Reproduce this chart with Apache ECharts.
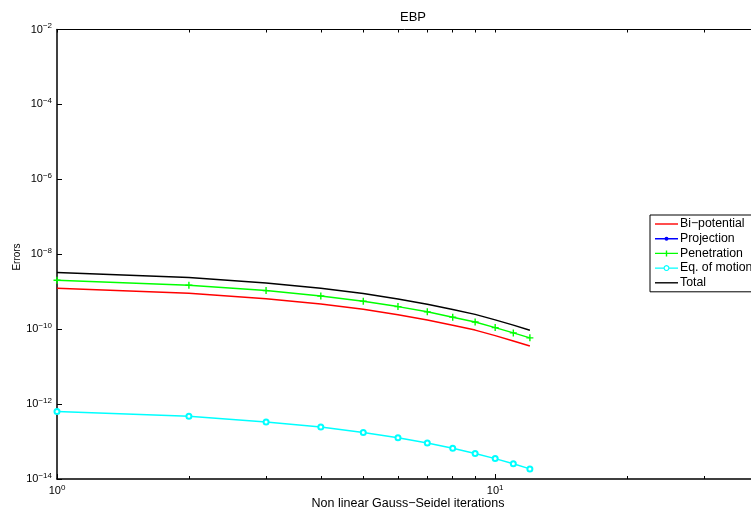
<!DOCTYPE html>
<html>
<head>
<meta charset="utf-8">
<script src="https://cdn.jsdelivr.net/npm/echarts@6/dist/echarts.min.js"></script>
<style>
html,body{margin:0;padding:0;background:#fff;}
#chart{width:751px;height:516px;}
</style>
</head>
<body>
<div id="chart"></div>
<script>
// ---- data ----
var iterations = [1,2,3,4,5,6,7,8,9,10,11,12];
var biPotential = [1.24e-9,9.12e-10,6.53e-10,4.71e-10,3.4e-10,2.44e-10,1.76e-10,1.27e-10,9.44e-11,6.73e-11,4.85e-11,3.55e-11];
var projection = [null,null,null,null,null,null,null,null,null,null,null,null];
var penetration = [2.03e-9,1.49e-9,1.07e-9,7.7e-10,5.6e-10,4.0e-10,2.9e-10,2.09e-10,1.55e-10,1.1e-10,7.96e-11,5.86e-11];
var eqOfMotion = [6.35e-13,4.7e-13,3.3e-13,2.44e-13,1.75e-13,1.26e-13,9.1e-14,6.6e-14,4.8e-14,3.5e-14,2.56e-14,1.86e-14];
var total = [3.25e-9,2.39e-9,1.72e-9,1.24e-9,8.95e-10,6.43e-10,4.63e-10,3.35e-10,2.48e-10,1.77e-10,1.28e-10,9.4e-11];
var seriesNames = ['Bi\u2212potential','Projection','Penetration','Eq. of motion','Total'];
var xMajorTicks = [1,10];
var xMinorTicks = [2,3,4,5,6,7,8,9,20,30,40];
var yMajorTicks = [1e-14,1e-12,1e-10,1e-8,1e-6,1e-4,1e-2];
var titleText = 'EBP';
var xAxisName = 'Non linear Gauss\u2212Seidel iterations';
var yAxisName = 'Errors';

function pairs(ys){ return iterations.map(function(x,i){ return [x, ys[i]]; }); }
function powLabel(v){
  var e = Math.round(Math.log(v)/Math.LN10);
  var s = e < 0 ? '\u2212' + (-e) : String(e);
  return '{b|10}{s|' + s + '}';
}
var FONT = '"Liberation Sans", Arial, Helvetica, sans-serif';
var rich = {
  b:{fontSize:11, fontFamily:FONT, color:'#000', lineHeight:14},
  s:{fontSize:8, fontFamily:FONT, color:'#000', lineHeight:14, padding:[0,0,7,0]}
};
var allX = xMajorTicks.concat(xMinorTicks);

// legend icons (line sample + marker)
var iconThin = 'path://M0,4.3H23V5.7H0Z';
var iconDot = 'path://M0,4.3H23V5.7H0Z M9.5,5a2,2 0 1,1 4,0a2,2 0 1,1 -4,0Z';
var iconPlus = 'path://M0,4.3H23V5.7H0Z M10.8,2H12.2V8H10.8Z';
var iconRing = 'path://M0,4.3H8.6V5.7H0Z M14.4,4.3H23V5.7H14.4Z ' +
  'M14.5,5L14.1,6.5L13,7.6L11.5,8L10,7.6L8.9,6.5L8.5,5L8.9,3.5L10,2.4L11.5,2L13,2.4L14.1,3.5Z ' +
  'M13.3,5L13.06,4.1L12.4,3.44L11.5,3.2L10.6,3.44L9.94,4.1L9.7,5L9.94,5.9L10.6,6.56L11.5,6.8L12.4,6.56L13.06,5.9Z';

var chart = echarts.init(document.getElementById('chart'), null, {renderer:'canvas'});
var plusPath = 'path://M4,0H6V4H10V6H6V10H4V6H0V4H4Z';
chart.setOption({
  animation:false,
  backgroundColor:'#fff',
  title:{text:titleText, left:408, top:6, textAlign:'center',
    textStyle:{fontSize:13, fontWeight:'normal', color:'#000', fontFamily:FONT}},
  grid:{left:57, top:29.5, right:-8, bottom:37, containLabel:false, outerBoundsMode:'none'},
  legend:{
    data:[
      {name:seriesNames[0], icon:iconThin},
      {name:seriesNames[1], icon:iconDot},
      {name:seriesNames[2], icon:iconPlus},
      {name:seriesNames[3], icon:iconRing, itemStyle:{color:'#00ffff', borderWidth:0}},
      {name:seriesNames[4], icon:iconThin}
    ],
    orient:'vertical', left:650, top:215,
    itemWidth:23, itemHeight:10, itemGap:2.7, symbolKeepAspect:true,
    padding:[3,20,3,5],
    backgroundColor:'#fff', borderColor:'#000', borderWidth:1,
    textStyle:{fontSize:12.3, lineHeight:12, color:'#000', fontFamily:FONT, padding:[0,0,0,-3]}
  },
  graphic:[
    {type:'text', x:408, y:504, style:{text:xAxisName, textAlign:'center', textVerticalAlign:'middle', fontSize:12.5, fill:'#000', fontFamily:FONT}},
    {type:'text', rotation:Math.PI/2, x:17, y:257, style:{text:yAxisName, textAlign:'center', textVerticalAlign:'middle', fontSize:10, fill:'#000', fontFamily:FONT}}
  ],
  xAxis:[
    {type:'log', logBase:10, min:1, max:40, position:'bottom',
     axisLine:{show:true, onZero:false, lineStyle:{color:'#000', width:1.5}},
     axisTick:{show:true, inside:true, length:5, customValues:xMajorTicks, lineStyle:{color:'#000'}},
     axisLabel:{show:true, customValues:xMajorTicks, margin:5, formatter:powLabel, rich:rich},
     splitLine:{show:false}, minorTick:{show:false}},
    {type:'log', logBase:10, min:1, max:40, position:'bottom',
     axisLine:{show:false, onZero:false},
     axisTick:{show:true, inside:true, length:3, customValues:xMinorTicks, lineStyle:{color:'#000'}},
     axisLabel:{show:false}, splitLine:{show:false}},
    {type:'log', logBase:10, min:1, max:40, position:'top',
     axisLine:{show:true, onZero:false, lineStyle:{color:'#000', width:1}},
     axisTick:{show:true, inside:true, length:3, customValues:allX, lineStyle:{color:'#000'}},
     axisLabel:{show:false}, splitLine:{show:false}}
  ],
  yAxis:[
    {type:'log', logBase:10, min:1e-14, max:1e-2, position:'left',
     axisLine:{show:true, onZero:false, lineStyle:{color:'#000', width:1.5}},
     axisTick:{show:true, inside:true, length:5, customValues:yMajorTicks, lineStyle:{color:'#000'}},
     axisLabel:{show:true, customValues:yMajorTicks, margin:5, formatter:powLabel, rich:rich},
     splitLine:{show:false}}
  ],
  series:[
    {name:seriesNames[1], type:'line', data:pairs(projection), symbol:'circle', symbolSize:4,
     itemStyle:{color:'#0000ff'}, lineStyle:{color:'#0000ff', width:1.5}},
    {name:seriesNames[0], type:'line', data:pairs(biPotential), symbol:'none', showSymbol:false,
     itemStyle:{color:'#ff0000'}, lineStyle:{color:'#ff0000', width:1.5}},
    {name:seriesNames[2], type:'line', data:pairs(penetration), symbol:plusPath, symbolSize:7,
     itemStyle:{color:'#00ff00'}, lineStyle:{color:'#00ff00', width:1.5}},
    {name:seriesNames[3], type:'line', data:pairs(eqOfMotion), symbol:'emptyCircle', symbolSize:5,
     itemStyle:{color:'#00ffff', borderColor:'#00ffff', borderWidth:1.3}, lineStyle:{color:'#00ffff', width:1.5}},
    {name:seriesNames[4], type:'line', data:pairs(total), symbol:'none', showSymbol:false,
     itemStyle:{color:'#000000'}, lineStyle:{color:'#000000', width:1.5}}
  ]
});
</script>
</body>
</html>
